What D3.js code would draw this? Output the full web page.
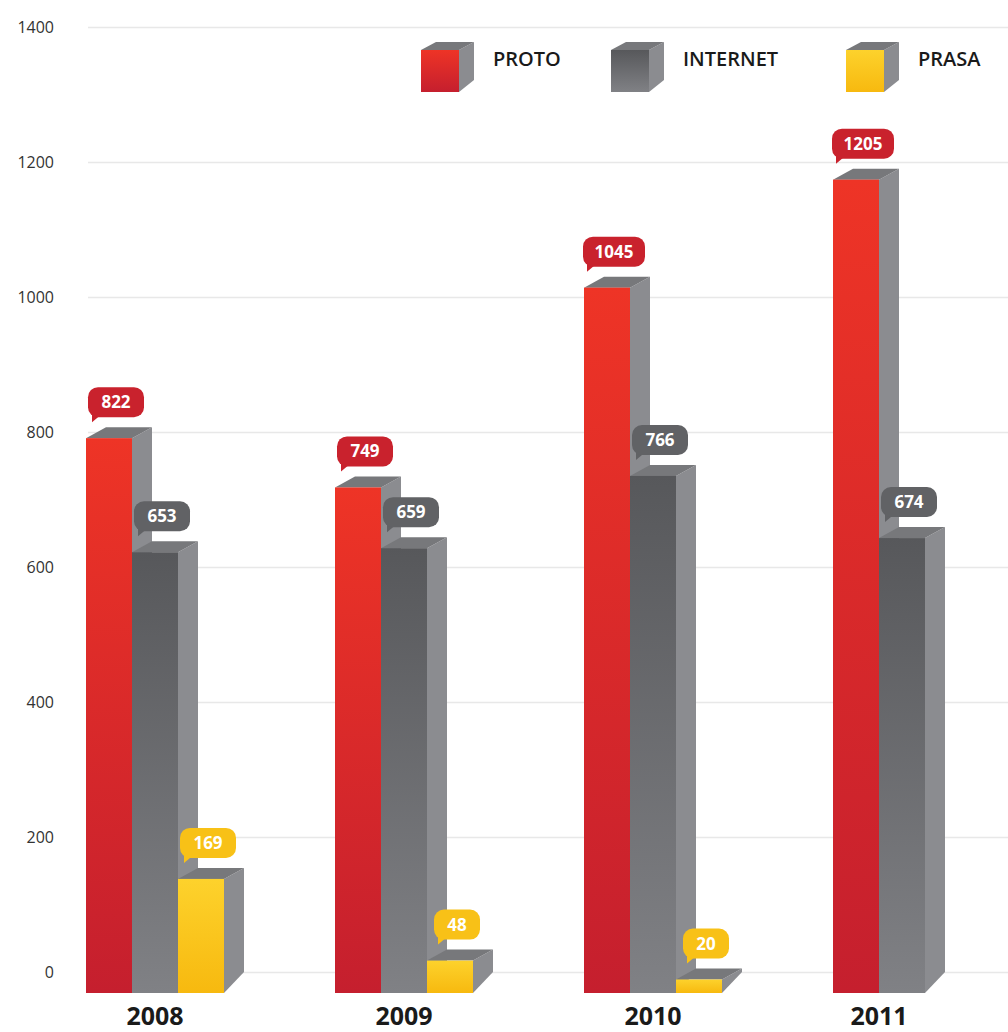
<!DOCTYPE html>
<html>
<head>
<meta charset="utf-8">
<script src="https://cdn.jsdelivr.net/npm/d3@7"></script>
<style>
  body { margin: 0; background: #fff; }
  svg { display: block; font-family: "Open Sans", sans-serif; }
</style>
</head>
<body>
<svg id="chart" width="1008" height="1032"></svg>
<script>
// values
const years = ["2008", "2009", "2010", "2011"];
const series = ["PROTO", "INTERNET", "PRASA"];
const proto = [822, 749, 1045, 1205];
const internet = [653, 659, 766, 674];
const prasa = [169, 48, 20, null];
const yTicks = [0, 200, 400, 600, 800, 1000, 1200, 1400];

const values = { PROTO: proto, INTERNET: internet, PRASA: prasa };
const fills = { PROTO: "url(#gRed)", INTERNET: "url(#gGrey)", PRASA: "url(#gYellow)" };
const badge = { PROTO: "#c9222d", INTERNET: "#616265", PRASA: "#f8c117" };

var svg = d3.select("#chart");
var W = 1008;

// gradients
var defs = svg.append("defs");
function grad(id, top, bottom) {
  var g = defs.append("linearGradient").attr("id", id)
    .attr("x1", 0).attr("y1", 0).attr("x2", 0).attr("y2", 1);
  g.append("stop").attr("offset", "0%").attr("stop-color", top);
  g.append("stop").attr("offset", "100%").attr("stop-color", bottom);
}
grad("gRed", "#ee3426", "#c51f2e");
grad("gGrey", "#57585b", "#808185");
grad("gYellow", "#fdd22c", "#f7b90f");

var y = d3.scaleLinear().domain([0, 1400]).range([972, 27]);

var x0 = d3.scaleBand().domain(years).range([86, 86 + 4 * 249]);
var x1 = d3.scaleBand().domain(series).range([0, 138]);

// gridlines
svg.append("g")
  .attr("transform", "translate(" + W + ",0)")
  .call(d3.axisLeft(y).tickValues(yTicks).tickSize(W - 88).tickFormat(""))
  .call(g => g.select(".domain").remove())
  .call(g => g.selectAll("line").attr("stroke", "#e8e8e8").attr("stroke-width", 1.5));

// tick labels
svg.append("g")
  .attr("transform", "translate(57,0)")
  .call(d3.axisLeft(y).tickValues(yTicks).tickSize(0).tickPadding(3).tickFormat(d3.format("d")))
  .call(g => g.select(".domain").remove())
  .call(g => g.selectAll("text")
    .attr("font-size", 16)
    .attr("fill", "#333")
    .style("font-family", "'Open Sans', sans-serif"));

// 3d box: front face plus grey side and top
var dx = 20, dyTop = 11, dyBot = 21;
function box(g, x, w, top, bottom, fill, d) {
  d = d || { dx: dx, top: dyTop, bot: dyBot };
  g.append("path")
    .attr("d", "M" + (x + w) + "," + top +
      "L" + (x + w + d.dx) + "," + (top - d.top) +
      "L" + (x + w + d.dx) + "," + (bottom - d.bot) +
      "L" + (x + w) + "," + bottom + "Z")
    .attr("fill", "#8b8c90");
  g.append("path")
    .attr("d", "M" + x + "," + top +
      "L" + (x + d.dx) + "," + (top - d.top) +
      "L" + (x + w + d.dx) + "," + (top - d.top) +
      "L" + (x + w) + "," + top + "Z")
    .attr("fill", "#77787b");
  g.append("rect")
    .attr("x", x).attr("y", top)
    .attr("width", w).attr("height", bottom - top)
    .attr("fill", fill);
}

var bars = svg.append("g");
var labels = svg.append("g");
var base = y(0) + dyBot;

years.forEach(function(yr, i) {
  var present = series.filter(s => values[s][i] != null);
  present.forEach(function(s) {
    var v = values[s][i];
    var bx = x0(yr) + x1(s);
    var top = y(v) + dyBot;
    box(bars, bx, x1.bandwidth(), top, base, fills[s]);

    // value badge
    var cx = bx + 30, cy = top - 36;
    var txt = String(v);
    var bw = txt.length > 3 ? 62 : (txt.length > 2 ? 56 : 46);
    var lb = labels.append("g");
    lb.append("path")
      .attr("d", "M" + (cx - bw / 2 + 4) + "," + (cy + 8) +
        "L" + (cx - bw / 2 + 4) + "," + (cy + 20) +
        "L" + (cx - bw / 2 + 16) + "," + (cy + 10) + "Z")
      .attr("fill", badge[s]);
    lb.append("rect")
      .attr("x", cx - bw / 2).attr("y", cy - 15)
      .attr("width", bw).attr("height", 30)
      .attr("rx", 10)
      .attr("fill", badge[s]);
    lb.append("text")
      .attr("x", cx).attr("y", cy + 6)
      .attr("text-anchor", "middle")
      .attr("font-size", 17).attr("font-weight", 700)
      .attr("fill", "#fff")
      .text(txt);
  });

  // year label centered over the bars that exist
  var first = x0(yr) + x1(present[0]);
  var last = x0(yr) + x1(present[present.length - 1]) + x1.bandwidth();
  svg.append("text")
    .attr("x", (first + last) / 2).attr("y", 1025)
    .attr("text-anchor", "middle")
    .attr("font-size", 25).attr("font-weight", 700)
    .attr("fill", "#1a1a1a")
    .text(yr);
});

// legend
var legX = [421, 611, 846];
var lg = svg.append("g");
series.forEach(function(s, i) {
  box(lg, legX[i], 38, 50, 92, fills[s], { dx: 15, top: 8, bot: 12 });
  lg.append("text")
    .attr("x", legX[i] + 72).attr("y", 66)
    .attr("font-size", 20).attr("font-weight", 600)
    .attr("fill", "#1a1a1a")
    .text(s);
});
</script>
</body>
</html>
